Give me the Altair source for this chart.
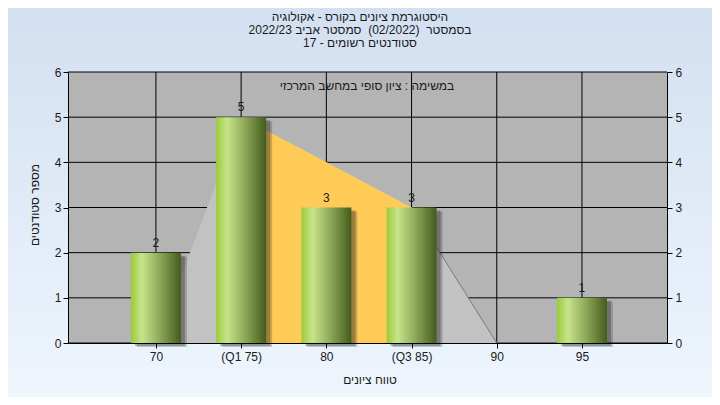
import altair as alt
import pandas as pd

# ---- data ----
bins = [70, 75, 80, 85, 90, 95]
counts = [2, 5, 3, 3, 0, 1]
tick_labels = ["70", "(Q1 75)", "80", "(Q3 85)", "90", "95"]
curve_y = [0, 5, 4, 3, 0, 0]
q1, q3 = 75, 85
y_ticks = [0, 1, 2, 3, 4, 5, 6]
title_lines = [
    "היסטוגרמת ציונים בקורס - אקולוגיה",
    "בסמסטר \u00a0(02/2022) \u00a0סמסטר אביב 2022/23",
    "סטודנטים רשומים - 17",
]
subtitle = "במשימה : ציון סופי במחשב המרכזי"
x_title = "טווח ציונים"
y_title = "מספר סטודנטים"

W, H = 599, 271
FONT = "Liberation Sans"
TXT = "#1a1a1a"

xscale = alt.Scale(domain=[64.84, 99.99], nice=False, zero=False, padding=0)
yscale = alt.Scale(domain=[0, 6], nice=False, zero=True, padding=0)

df = pd.DataFrame({"bin": bins, "count": counts, "curve": curve_y})
one = alt.Data(values=[{}])

label_expr = ""
for v, l in zip(bins, tick_labels):
    label_expr += f"datum.value == {v} ? '{l}' : "
label_expr += "datum.label"

axis_common = dict(
    grid=False, tickColor="black", domainColor="black", tickSize=5,
    labelFont=FONT, labelFontSize=12, labelColor=TXT, zindex=1, title=None,
)

X = alt.X("bin:Q", scale=xscale,
          axis=alt.Axis(orient="bottom", values=bins, labelExpr=label_expr,
                        labelPadding=3, **axis_common))

# page background gradient
bg = alt.Chart(one).mark_rect(
    fill=alt.Gradient(
        gradient="linear", x1=0, y1=0, x2=0, y2=1,
        stops=[alt.GradientStop(color="#d3e0f1", offset=0),
               alt.GradientStop(color="#eef5fd", offset=1)],
    )
).encode(x=alt.value(-60), x2=alt.value(644), y=alt.value(-64), y2=alt.value(325))

plotbg = alt.Chart(one).mark_rect(fill="#b4b4b4").encode(
    x=alt.value(0), x2=alt.value(W), y=alt.value(0), y2=alt.value(H)
)

hgrid = alt.Chart(pd.DataFrame({"y": y_ticks})).mark_rule(color="black", strokeWidth=1).encode(
    y=alt.Y("y:Q", scale=yscale,
            axis=alt.Axis(orient="right", values=y_ticks, labelPadding=3, **axis_common)),
    x=alt.value(0), x2=alt.value(W),
)

vgrid = alt.Chart(df).mark_rule(color="black", strokeWidth=1).encode(
    x=X, y=alt.value(0), y2=alt.value(H),
)

area_gray = alt.Chart(df).mark_area(color="#c2c2c2").encode(
    x=X, y=alt.Y("curve:Q", scale=yscale, axis=None),
)
area_orange = alt.Chart(df).transform_filter(
    (alt.datum.bin >= q1) & (alt.datum.bin <= q3)
).mark_area(color="#fecb57").encode(
    x=X, y=alt.Y("curve:Q", scale=yscale, axis=None),
)
curve_line = alt.Chart(df).transform_filter(alt.datum.bin >= q3).mark_line(
    color="#7a7a7a", strokeWidth=1
).encode(
    x=X, y=alt.Y("curve:Q", scale=yscale, axis=None),
)

bars_base = alt.Chart(df).transform_filter(alt.datum.count > 0)

shadow1 = bars_base.mark_bar(width=50, color="#202020", opacity=0.22, xOffset=6, yOffset=4).encode(
    x=X, y=alt.Y("count:Q", scale=yscale, axis=None),
)
shadow2 = bars_base.mark_bar(width=50, color="#202020", opacity=0.3, xOffset=4, yOffset=3).encode(
    x=X, y=alt.Y("count:Q", scale=yscale, axis=None),
)

bars = bars_base.mark_bar(
    width=50,
    fill=alt.Gradient(
        gradient="linear", x1=0, y1=0, x2=1, y2=0,
        stops=[alt.GradientStop(color="#9acb3a", offset=0),
               alt.GradientStop(color="#c7e48a", offset=0.22),
               alt.GradientStop(color="#92ad5c", offset=0.55),
               alt.GradientStop(color="#445c1c", offset=1)],
    ),
).encode(
    x=X,
    y=alt.Y("count:Q", scale=yscale,
            axis=alt.Axis(orient="left", values=y_ticks, labelPadding=2, **axis_common)),
)

value_labels = bars_base.mark_text(
    baseline="bottom", dy=-3, font=FONT, fontSize=12, color=TXT
).encode(
    x=X,
    y=alt.Y("count:Q", scale=yscale, axis=None),
    text=alt.Text("count:Q"),
)

def text_at(t, x, y, angle=0, size=12):
    return alt.Chart(pd.DataFrame({"t": [t]})).mark_text(
        font=FONT, fontSize=size, color=TXT, align="center", baseline="middle", angle=angle
    ).encode(text="t:N", x=alt.value(x), y=alt.value(y))

texts = [
    text_at(title_lines[0], 292, -55),
    text_at(title_lines[1], 292, -42),
    text_at(title_lines[2], 292, -29),
    text_at(subtitle, 299, 14),
    text_at(x_title, 302, 308),
    text_at(y_title, -33, 133, angle=270),
]

chart = alt.layer(
    bg, plotbg, hgrid, vgrid, area_gray, area_orange, curve_line,
    shadow1, shadow2, bars, value_labels, *texts
).resolve_scale(y="independent").properties(
    width=W, height=H,
    autosize=alt.AutoSizeParams(type="none"),
    padding={"left": 60, "top": 64, "right": 45, "bottom": 54},
    background="#e2ecf8",
).configure_view(stroke=None)

chart.save("out.html", embed_options={"renderer": "svg", "actions": False})
